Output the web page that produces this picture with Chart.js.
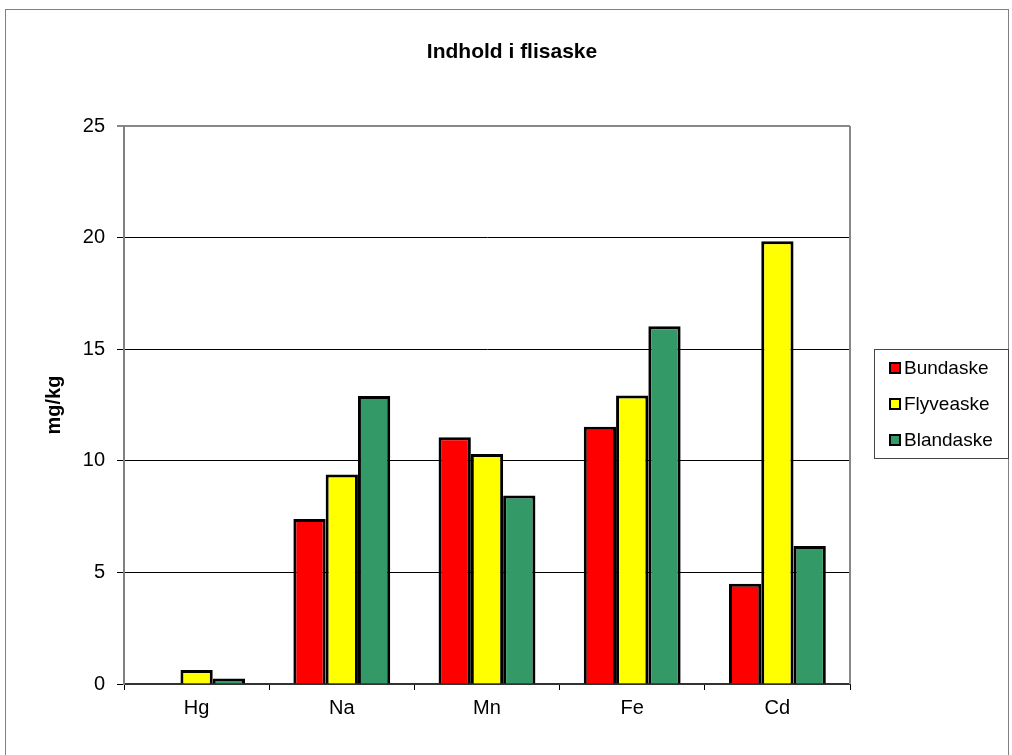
<!DOCTYPE html>
<html>
<head>
<meta charset="utf-8">
<script src="https://cdn.jsdelivr.net/npm/chart.js@4.4.0/dist/chart.umd.min.js"></script>
<style>
  html, body { margin: 0; padding: 0; background: #fff; }
</style>
</head>
<body>
<canvas id="chart" width="1012" height="755"></canvas>
<script>
// Chart data
const categories = ["Hg", "Na", "Mn", "Fe", "Cd"];
const seriesNames = ["Bundaske", "Flyveaske", "Blandaske"];
const bundaske = [0, 7.39, 11.06, 11.52, 4.49];
const flyveaske = [0.63, 9.39, 10.31, 12.93, 19.84];
const blandaske = [0.25, 12.9, 8.45, 16.03, 6.18];
const seriesColors = ["#FF0000", "#FFFF00", "#339966"];
const yTicks = [0, 5, 10, 15, 20, 25];
const chartTitle = "Indhold i flisaske";

const FONT = "'Liberation Sans', Arial, sans-serif";

// Outer frame, title, right plot edge and the boxed legend
const frameAndLegend = {
  id: "frameAndLegend",
  afterDraw(chart) {
    const ctx = chart.ctx;
    const area = chart.chartArea;
    ctx.save();

    ctx.strokeStyle = "#888";
    ctx.lineWidth = 2;
    ctx.beginPath();
    ctx.moveTo(area.right, area.top);
    ctx.lineTo(area.right, area.bottom);
    ctx.stroke();

    ctx.strokeStyle = "#808080";
    ctx.lineWidth = 1;
    ctx.strokeRect(5.5, 9.5, 1003, 760);

    // title, centred on the whole frame
    ctx.fillStyle = "#000";
    ctx.font = "bold 21px " + FONT;
    ctx.textAlign = "center";
    ctx.textBaseline = "middle";
    ctx.fillText(chartTitle, 512, 52);

    // legend
    ctx.strokeStyle = "#444";
    ctx.strokeRect(874.5, 349.5, 134, 109);
    ctx.font = "19px " + FONT;
    ctx.textAlign = "left";
    chart.data.datasets.forEach((ds, i) => {
      const cy = 368 + i * 36;
      ctx.fillStyle = "#000";
      ctx.fillRect(889, cy - 6, 12, 12);
      ctx.fillStyle = ds.backgroundColor;
      ctx.fillRect(891, cy - 4, 8, 8);
      ctx.fillStyle = "#000";
      ctx.fillText(ds.label, 904, cy + 1);
    });
    ctx.restore();
  }
};

const seriesValues = [bundaske, flyveaske, blandaske];

new Chart(document.getElementById("chart"), {
  type: "bar",
  data: {
    labels: categories,
    datasets: seriesNames.map((name, i) => ({
      label: name,
      data: seriesValues[i],
      backgroundColor: seriesColors[i],
      borderColor: "#000",
      borderWidth: 3,
      categoryPercentage: 0.667,
      barPercentage: 1
    }))
  },
  options: {
    responsive: false,
    animation: false,
    layout: { padding: { left: 0, right: 162, bottom: 0, top: 126 } },
    plugins: {
      legend: { display: false },
      tooltip: { enabled: false },
      title: { display: false }
    },
    scales: {
      x: {
        grid: {
          offset: true,
          drawOnChartArea: false,
          tickLength: 6,
          color: "#000"
        },
        border: { color: "#333", width: 2 },
        ticks: {
          color: "#000",
          padding: 6,
          font: { family: FONT, size: 20 }
        },
        afterFit(scale) { scale.height = 71; }
      },
      y: {
        min: 0,
        max: 25,
        afterBuildTicks(scale) {
          scale.ticks = yTicks.map(v => ({ value: v }));
        },
        grid: {
          tickLength: 7,
          color: ctx => (ctx.tick && ctx.tick.value === 25 ? "#888" : "#000"),
          lineWidth: ctx => (ctx.tick && ctx.tick.value === 25 ? 2 : 1)
        },
        border: { color: "#808080", width: 2 },
        ticks: {
          color: "#000",
          padding: 12,
          font: { family: FONT, size: 20 }
        },
        title: {
          display: true,
          text: "mg/kg",
          color: "#000",
          font: { family: FONT, size: 20, weight: "bold", lineHeight: 1.2 },
          padding: { top: 42, bottom: 0 }
        },
        afterFit(scale) { scale.width = 124; }
      }
    }
  },
  plugins: [frameAndLegend]
});
</script>
</body>
</html>
